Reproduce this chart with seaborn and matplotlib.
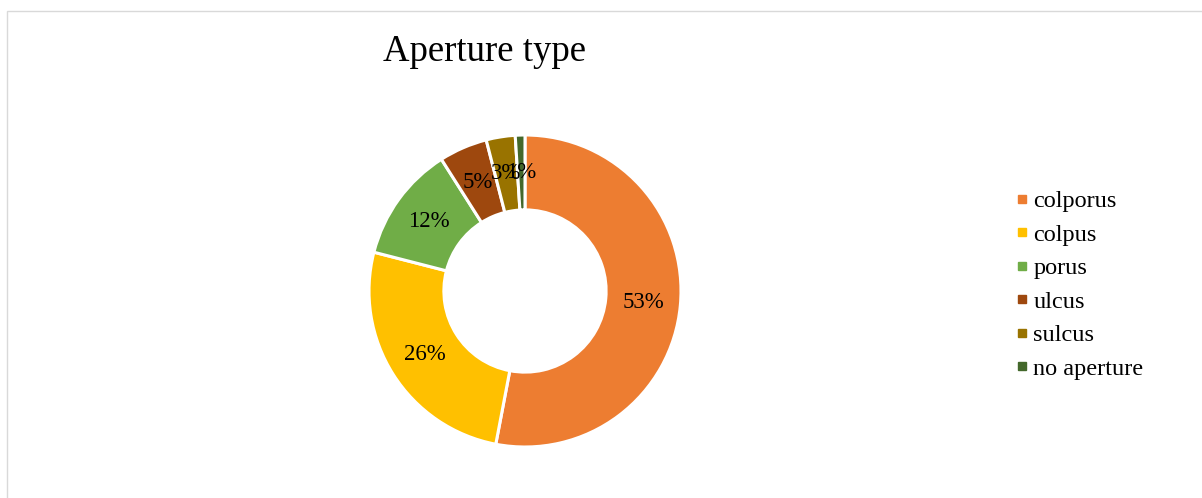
import matplotlib
matplotlib.use("Agg")
import matplotlib.pyplot as plt
from matplotlib.lines import Line2D
from matplotlib.patches import Rectangle
import seaborn as sns

categories = ["colporus", "colpus", "porus", "ulcus", "sulcus", "no aperture"]
values = [53, 26, 12, 5, 3, 1]
colors = ["#ED7D31", "#FFC000", "#70AD47", "#9E480E", "#997300", "#43682B"]
title = "Aperture type"

sns.set_theme(style="white")
plt.rcParams["font.family"] = ["Liberation Serif", "DejaVu Serif"]
plt.rcParams["text.color"] = "black"

W, H = 1202, 498
fig = plt.figure(figsize=(W / 100, H / 100), dpi=100)
fig.patch.set_facecolor("white")

# chart area border (light gray), extends beyond right/bottom
fig.patches.append(Rectangle((7 / W, -0.1), 1.2, (H - 11) / H + 0.1,
                             transform=fig.transFigure, fill=False,
                             edgecolor="#D9D9D9", linewidth=1.0))

cx, cy, r = 525, H - 291, 156
ax = fig.add_axes([(cx - r) / W, (cy - r) / H, 2 * r / W, 2 * r / H])
palette = sns.color_palette(colors)
wedges, texts, autotexts = ax.pie(
    values, colors=palette, startangle=90, counterclock=False,
    autopct="%1.0f%%", pctdistance=0.76,
    wedgeprops=dict(width=0.48, edgecolor="white", linewidth=2.2),
    textprops=dict(fontsize=16.5, color="black"))
ax.set_xlim(-1, 1)
ax.set_ylim(-1, 1)
ax.set_aspect("equal")
ax.axis("off")

fig.text(485 / W, 1 - 52 / H, title, fontsize=26.5, ha="center", va="center",
         color="black")

handles = [Line2D([0], [0], marker="s", linestyle="none", markersize=6,
                  markerfacecolor=c, markeredgecolor=c) for c in colors]
fig.legend(handles, categories, loc="center left",
           bbox_to_anchor=(1003 / W, 1 - 285 / H), frameon=False,
           fontsize=17.5, handlelength=0.6, handletextpad=0.15,
           borderpad=0, labelspacing=0.47, labelcolor="black")

fig.savefig("out.png", dpi=100, facecolor="white")
